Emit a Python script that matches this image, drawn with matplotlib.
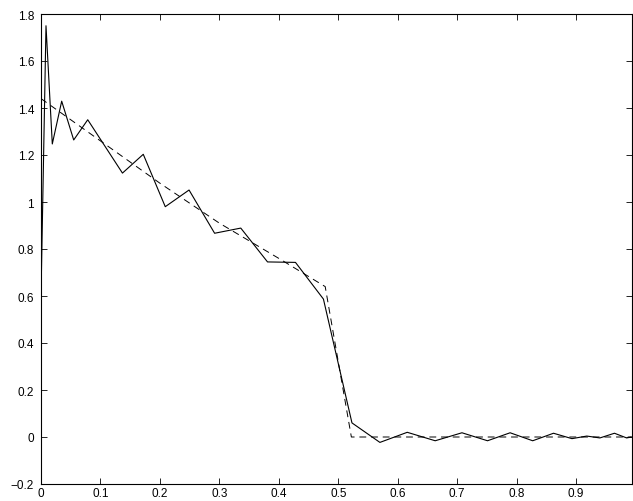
import matplotlib
matplotlib.use("Agg")
import matplotlib.pyplot as plt
from matplotlib.ticker import FuncFormatter

# solid curve vertices
x_solid = [0.0, 0.0084, 0.019, 0.0348, 0.055, 0.0786, 0.137, 0.172, 0.209, 0.249,
           0.292, 0.336, 0.381, 0.428, 0.475, 0.523, 0.570, 0.616, 0.663, 0.708,
           0.751, 0.789, 0.827, 0.862, 0.893, 0.918, 0.940, 0.9645, 0.985, 0.993]
y_solid = [0.6, 1.750, 1.247, 1.429, 1.264, 1.350, 1.123, 1.203, 0.980, 1.051,
           0.867, 0.889, 0.745, 0.743, 0.587, 0.060, -0.023, 0.020, -0.016, 0.018,
           -0.016, 0.018, -0.016, 0.016, -0.007, 0.004, -0.004, 0.016, -0.004, 0.0]

# dashed curve
x_dash = [0.0, 0.1, 0.2, 0.3, 0.4, 0.478, 0.522, 0.993]
y_dash = [1.44, 1.26, 1.08, 0.91, 0.76, 0.64, 0.0, 0.0]

x_ticks = [0, 0.1, 0.2, 0.3, 0.4, 0.5, 0.6, 0.7, 0.8, 0.9]
y_ticks = [-0.2, 0, 0.2, 0.4, 0.6, 0.8, 1.0, 1.2, 1.4, 1.6, 1.8]

plt.rcParams['font.family'] = ['Liberation Sans', 'DejaVu Sans']

fig = plt.figure(figsize=(6.33, 5.02), dpi=100)
ax = fig.add_axes([41/633, 17/502, 591/633, 470/502])

ax.plot(x_solid, y_solid, color="#000000", linewidth=0.8)
ax.plot(x_dash, y_dash, color="#000000", linewidth=0.7, linestyle=(0, (7, 5)))

ax.set_xlim(0, 0.994)
ax.set_ylim(-0.2, 1.8)
ax.set_xticks(x_ticks)
ax.set_yticks(y_ticks)
fmt = FuncFormatter(lambda v, p: ("%g" % round(v, 2)).replace("-", "\u2212"))
ax.xaxis.set_major_formatter(fmt)
ax.yaxis.set_major_formatter(fmt)

ax.tick_params(direction="in", top=True, right=True, length=4, width=0.6,
               labelsize=8.5, colors="#000000")
ax.tick_params(axis="x", pad=2)
ax.tick_params(axis="y", pad=5)
for s in ax.spines.values():
	s.set_linewidth(0.8)

plt.savefig("out.png", dpi=100)
plt.close()
